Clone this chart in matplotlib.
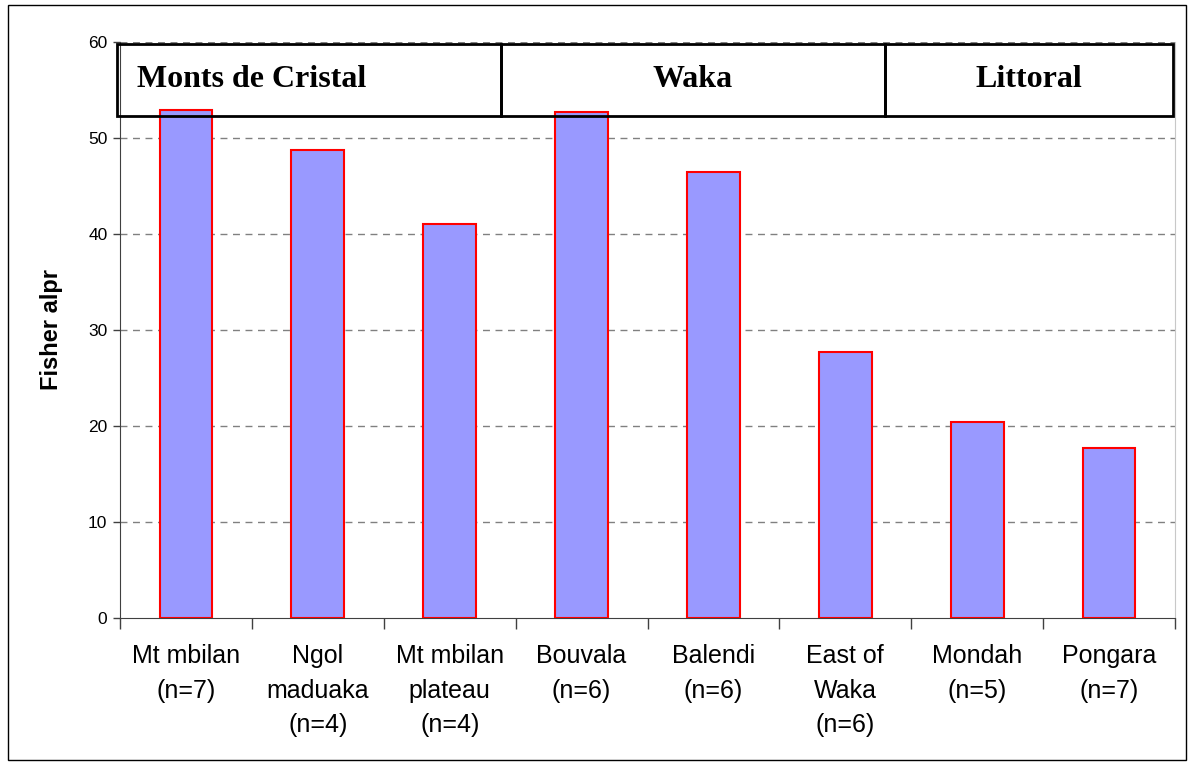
import matplotlib.pyplot as plt
from matplotlib.patches import Rectangle
import numpy as np

# data
sites = ['Mt mbilan\n(n=7)', 'Ngol\nmaduaka\n(n=4)', 'Mt mbilan\nplateau\n(n=4)', 'Bouvala\n(n=6)',
         'Balendi\n(n=6)', 'East of\nWaka\n(n=6)', 'Mondah\n(n=5)', 'Pongara\n(n=7)']
alpha = [52.9, 48.8, 41.0, 52.7, 46.5, 27.7, 20.4, 17.7]
regions = ['Monts de Cristal', 'Waka', 'Littoral']
region_edges = [-0.003, 0.361, 0.725, 0.998]   # axes fraction
yticks = [0, 10, 20, 30, 40, 50, 60]

plt.rcParams['font.family'] = ['Liberation Sans', 'DejaVu Sans']

fig = plt.figure(figsize=(11.92, 7.67), dpi=100)
ax = fig.add_axes([120/1192, 1-618/767, 1055/1192, 576/767])

x = np.arange(len(sites))
ax.bar(x, alpha, width=0.4, color='#9999FF', edgecolor='red', linewidth=1.5, zorder=3)

ax.set_xlim(-0.5, len(sites)-0.5)
ax.set_ylim(0, 60)
ax.set_yticks(yticks)
ax.set_yticklabels([str(t) for t in yticks], fontsize=12.5)
for t in yticks[1:]:
    ax.axhline(t, color='#808080', linestyle=(0, (5, 4)), linewidth=1, zorder=1)

ax.set_xticks(np.arange(len(sites)+1)-0.5)
ax.set_xticklabels([])
ax.set_xticks(x, minor=True)
ax.set_xticklabels(sites, minor=True, fontsize=18, linespacing=1.55, va='top')
ax.tick_params(axis='x', which='minor', length=0, pad=19)
ax.tick_params(axis='x', which='major', length=8, width=1, color='#404040')
ax.tick_params(axis='y', length=5, width=1, color='#404040', pad=4)

ax.spines['top'].set_visible(False)
ax.spines['right'].set_color('#c8c8c8')
ax.spines['left'].set_color('#404040')
ax.spines['bottom'].set_color('#404040')

ax.set_ylabel('Fisher alpr', fontsize=17, fontweight='bold', labelpad=18)

# region header boxes
ybot, ytop = 52.3, 59.8
for i, name in enumerate(regions):
    x0, x1 = region_edges[i], region_edges[i+1]
    ax.add_patch(Rectangle((x0, ybot/60), x1-x0, (ytop-ybot)/60, transform=ax.transAxes,
                           fill=False, edgecolor='black', linewidth=2, zorder=5, clip_on=False))
    if i == 0:
        ax.text(x0+0.019, (ybot+ytop)/2/60, name, transform=ax.transAxes, ha='left', va='center',
                fontsize=23, fontweight='bold', family='Liberation Serif', zorder=6)
    else:
        ax.text((x0+x1)/2, (ybot+ytop)/2/60, name, transform=ax.transAxes, ha='center', va='center',
                fontsize=23, fontweight='bold', family='Liberation Serif', zorder=6)

# outer frame
fig.add_artist(Rectangle((8/1192, 1-760/767), 1178/1192, 755/767, transform=fig.transFigure,
                         fill=False, edgecolor='black', linewidth=1))

fig.savefig('out.png', dpi=100)
